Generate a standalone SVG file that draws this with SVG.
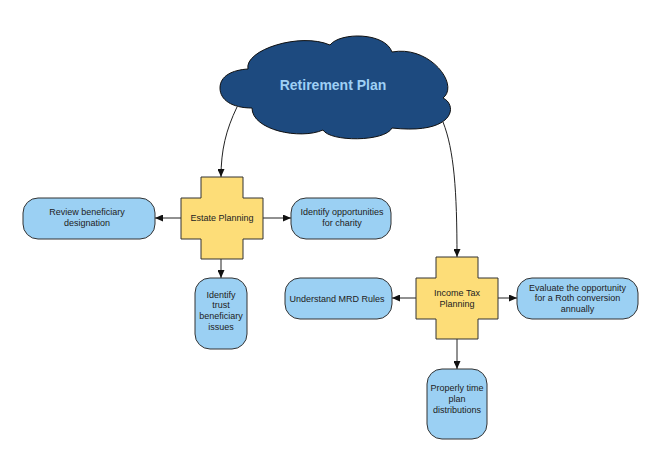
<svg xmlns="http://www.w3.org/2000/svg" width="661" height="467" viewBox="0 0 661 467">
<style>
.box{fill:#9bd0f3;stroke:#333;stroke-width:1}
.cross{fill:#fddd78;stroke:#333;stroke-width:1;stroke-linejoin:round}
.t{font-family:"Liberation Sans",Arial,sans-serif;font-size:9px;fill:#222;text-anchor:middle}
.c{fill:none;stroke:#222;stroke-width:1;marker-end:url(#ah)}
</style>
<defs>
<marker id="ah" markerUnits="userSpaceOnUse" markerWidth="8" markerHeight="7" refX="8" refY="3.5" orient="auto">
<path d="M0,0 L8,3.5 L0,7 z" fill="#111"/>
</marker>
</defs>
<rect width="661" height="467" fill="#fff"/>
<g id="connectors">
<path class="c" d="M237 107 C226 130 221 150 221 177"/>
<path class="c" d="M443 122 C454 150 457 190 457 257"/>
<path class="c" d="M181 218 L155 218"/>
<path class="c" d="M263 218 L291 218"/>
<path class="c" d="M221 259 L221 278"/>
<path class="c" d="M416 298 L392 298"/>
<path class="c" d="M498 298 L517 298"/>
<path class="c" d="M457 339 L457 369"/>
</g>
<g id="retirement-plan">
<path d="M252 108 C232 108 220 100 220 88 C220 76 232 70 248 69 C244 50 300 32 330 45 C340 32 385 32 392 52 C430 45 460 85 443 98 C458 105 455 135 392 128 C385 142 330 142 323 130 C300 140 252 130 252 108 Z" fill="#1d4a7f" stroke="#111" stroke-width="1"/>
<text x="333" y="90" font-family="Liberation Sans, Arial, sans-serif" font-size="14" font-weight="bold" fill="#9fd0f5" text-anchor="middle">Retirement Plan</text>
</g>
<g id="estate-planning">
<path class="cross" d="M201 177 H243 V198 H263 V239 H243 V259 H201 V239 H181 V198 H201 Z"/>
<text class="t" x="222" y="221">Estate Planning</text>
</g>
<g id="review-beneficiary">
<rect class="box" x="23" y="198" width="132" height="41" rx="15"/>
<text class="t" x="87" y="215">Review beneficiary</text>
<text class="t" x="87" y="226">designation</text>
</g>
<g id="charity">
<rect class="box" x="291" y="198" width="100" height="41" rx="15"/>
<text class="t" x="342" y="215">Identify opportunities</text>
<text class="t" x="342" y="226">for charity</text>
</g>
<g id="trust">
<rect class="box" x="195" y="278" width="52" height="71" rx="15"/>
<text class="t" x="221" y="297.5">Identify</text>
<text class="t" x="221" y="308.3">trust</text>
<text class="t" x="221" y="319.1">beneficiary</text>
<text class="t" x="221" y="329.9">issues</text>
</g>
<g id="income-tax-planning">
<path class="cross" d="M436 257 H478 V278 H498 V319 H478 V339 H436 V319 H416 V278 H436 Z"/>
<text class="t" x="457" y="296.3">Income Tax</text>
<text class="t" x="457" y="307.1">Planning</text>
</g>
<g id="mrd-rules">
<rect class="box" x="285" y="278" width="107" height="41" rx="15"/>
<text class="t" x="337" y="301.5">Understand MRD Rules</text>
</g>
<g id="roth">
<rect class="box" x="517" y="278" width="121" height="41" rx="15"/>
<text class="t" x="577.5" y="290.5">Evaluate the opportunity</text>
<text class="t" x="577.5" y="301.3">for a Roth conversion</text>
<text class="t" x="577.5" y="312.1">annually</text>
</g>
<g id="distributions">
<rect class="box" x="427" y="369" width="60" height="70" rx="15"/>
<text class="t" x="457" y="391">Properly time</text>
<text class="t" x="457" y="401.8">plan</text>
<text class="t" x="457" y="412.6">distributions</text>
</g>
</svg>
